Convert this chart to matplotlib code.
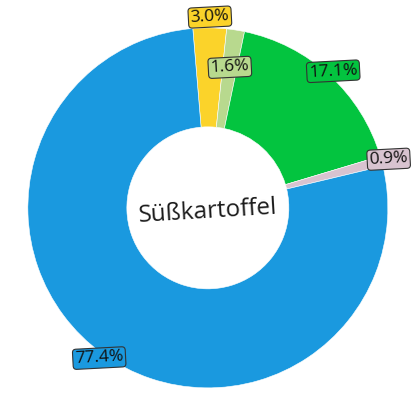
import matplotlib
matplotlib.use("Agg")
import matplotlib.pyplot as plt
import numpy as np

labels = ["Gelb", "Hellgrün", "Grün", "Rosa", "Blau"]
values = [3.0, 1.6, 17.1, 0.9, 77.4]
pct_labels = ["3.0%", "1.6%", "17.1%", "0.9%", "77.4%"]
colors = ["#fbd32a", "#b8d98e", "#03c43f", "#d8c3d0", "#1a99df"]
label_radius = [1.06, 0.79, 1.03, 1.04, 1.03]
center_title = "Süßkartoffel"

plt.rcParams['font.family'] = ['Open Sans', 'DejaVu Sans']

fig = plt.figure(figsize=(4.15, 4.15), dpi=100)
ax = fig.add_axes([0, 0, 1, 1])
start = 94.8
wedges, _ = ax.pie(values, colors=colors, startangle=start, counterclock=False,
                   radius=1.0, wedgeprops=dict(width=0.55, edgecolor='white', linewidth=0.4),
                   center=(0, 0))
total = sum(values)
ang = start
for v, lab, c, r in zip(values, pct_labels, colors, label_radius):
    span = v / total * 360
    mid = np.deg2rad(ang - span / 2)
    ang -= span
    ax.text(r * np.cos(mid), r * np.sin(mid), lab, ha='center', va='center',
            fontsize=12.5, rotation=3, color='#111111',
            bbox=dict(boxstyle='round,pad=0.12,rounding_size=0.2', fc=c, ec='#333333', lw=0.8))

ax.text(0, -0.02, center_title, ha='center', va='center', fontsize=17.5, rotation=3.5, color='#1a1a1a')
h = 207.5 / 180
ax.set_xlim(-h - 0.002, h - 0.002)
ax.set_ylim(-h + 0.002, h + 0.002)
ax.set_aspect('equal')
ax.axis('off')
fig.savefig("out.png", dpi=100, facecolor='white')
